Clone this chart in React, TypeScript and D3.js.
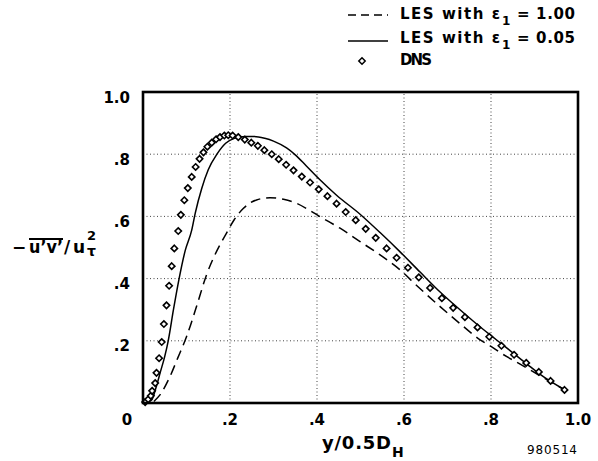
import React from "react";
import * as d3 from "d3";

// ---- data ----
const dnsX = [0.005, 0.012, 0.018, 0.021, 0.028, 0.031, 0.037, 0.043, 0.048, 0.054, 0.060, 0.066, 0.072, 0.081, 0.087, 0.095, 0.103, 0.112, 0.121, 0.130, 0.139, 0.148, 0.158, 0.168, 0.177, 0.187, 0.196, 0.206, 0.219, 0.234, 0.249, 0.264, 0.279, 0.296, 0.312, 0.329, 0.346, 0.365, 0.384, 0.404, 0.424, 0.445, 0.466, 0.489, 0.512, 0.535, 0.560, 0.583, 0.609, 0.634, 0.660, 0.687, 0.713, 0.740, 0.769, 0.796, 0.824, 0.853, 0.881, 0.910, 0.937, 0.969];
const dnsY = [0.003, 0.012, 0.023, 0.039, 0.064, 0.097, 0.144, 0.196, 0.254, 0.314, 0.377, 0.440, 0.497, 0.553, 0.605, 0.652, 0.691, 0.727, 0.759, 0.785, 0.806, 0.824, 0.837, 0.848, 0.855, 0.860, 0.861, 0.860, 0.855, 0.847, 0.837, 0.827, 0.813, 0.800, 0.784, 0.766, 0.748, 0.728, 0.709, 0.687, 0.665, 0.641, 0.614, 0.588, 0.560, 0.531, 0.497, 0.467, 0.435, 0.404, 0.370, 0.337, 0.306, 0.276, 0.243, 0.213, 0.184, 0.155, 0.129, 0.100, 0.071, 0.042];

const les005X = [0.005, 0.02, 0.03, 0.04, 0.05, 0.058, 0.07, 0.083, 0.097, 0.112, 0.12, 0.135, 0.15, 0.17, 0.19, 0.21, 0.235, 0.255, 0.28, 0.30, 0.33, 0.35, 0.375, 0.405, 0.445, 0.499, 0.545, 0.591, 0.637, 0.683, 0.713, 0.767, 0.798, 0.828, 0.882, 0.913, 0.966];
const les005Y = [0.0, 0.01, 0.05, 0.10, 0.15, 0.20, 0.30, 0.40, 0.49, 0.556, 0.61, 0.69, 0.75, 0.80, 0.835, 0.851, 0.857, 0.857, 0.851, 0.842, 0.820, 0.798, 0.763, 0.720, 0.668, 0.607, 0.548, 0.486, 0.421, 0.357, 0.319, 0.254, 0.219, 0.186, 0.126, 0.092, 0.045];

const les100X = [0.025, 0.039, 0.062, 0.080, 0.100, 0.123, 0.146, 0.170, 0.192, 0.210, 0.231, 0.261, 0.292, 0.323, 0.353, 0.380, 0.407, 0.453, 0.499, 0.545, 0.591, 0.629, 0.683, 0.729, 0.775, 0.800, 0.820, 0.867, 0.910, 0.966];
const les100Y = [0.005, 0.026, 0.085, 0.145, 0.213, 0.310, 0.412, 0.490, 0.546, 0.590, 0.626, 0.653, 0.660, 0.655, 0.642, 0.622, 0.599, 0.562, 0.519, 0.476, 0.428, 0.378, 0.310, 0.255, 0.203, 0.182, 0.163, 0.125, 0.090, 0.045];

const gridTicks = [0.2, 0.4, 0.6, 0.8];
const yTickLabels = [".2", ".4", ".6", ".8", "1.0"];
const yTickValues = [0.2, 0.4, 0.6, 0.8, 1.0];
const xTickLabels = ["0", ".2", ".4", ".6", ".8", "1.0"];
const xTickValues = [0, 0.2, 0.4, 0.6, 0.8, 1.0];
const legendLabels = ["LES with \u03b5", "LES with \u03b5", "DNS"];
const legendValues = ["= 1.00", "= 0.05"];

const FONT = "'DejaVu Sans', 'Liberation Sans', Arial, sans-serif";

export default function App() {
  const x = d3.scaleLinear().domain([0, 1]).range([143, 578]);
  const y = d3.scaleLinear().domain([0, 1]).range([403, 92]);

  const line = d3
    .line<[number, number]>()
    .x((d) => x(d[0]))
    .y((d) => y(d[1]))
    .curve(d3.curveMonotoneX);

  const solidPts = les005X.map((v, i) => [v, les005Y[i]] as [number, number]);
  const dashPts = les100X.map((v, i) => [v, les100Y[i]] as [number, number]);
  const diamond = d3.symbol().type(d3.symbolDiamond2).size(26)() as string;

  return (
    <svg
      width={598}
      height={461}
      style={{ position: "absolute", left: 0, top: 0, background: "#fff" }}
      fontFamily={FONT}
      fontWeight="bold"
    >
      <rect x={0} y={0} width={598} height={461} fill="#fff" />
      {/* grid */}
      {gridTicks.map((t) => (
        <line key={"gx" + t} x1={x(t)} x2={x(t)} y1={y(0)} y2={y(1)} stroke="#444" strokeWidth={1} strokeDasharray="1,2.5" />
      ))}
      {gridTicks.map((t) => (
        <line key={"gy" + t} x1={x(0)} x2={x(1)} y1={y(t)} y2={y(t)} stroke="#444" strokeWidth={1} strokeDasharray="1,2.5" />
      ))}

      {/* curves */}
      <path d={line(dashPts) || ""} fill="none" stroke="#000" strokeWidth={1.5} strokeDasharray="10,6" />
      <path d={line(solidPts) || ""} fill="none" stroke="#000" strokeWidth={1.5} />
      {dnsX.map((v, i) => (
        <path key={"d" + i} d={diamond} transform={`translate(${x(v)},${y(dnsY[i])})`} fill="#fff" stroke="#000" strokeWidth={1.6} />
      ))}

      {/* frame */}
      <rect x={x(0)} y={y(1)} width={x(1) - x(0)} height={y(0) - y(1)} fill="none" stroke="#000" strokeWidth={2.6} />

      {/* y tick labels */}
      {yTickValues.map((t, i) => (
        <text key={"yl" + t} x={130} y={y(t) + 10.5} textAnchor="end" fontSize={15}>
          {yTickLabels[i]}
        </text>
      ))}
      {/* x tick labels */}
      {xTickValues.map((t, i) => (
        <text key={"xl" + t} x={t === 0 ? 127 : x(t)} y={425} textAnchor="middle" fontSize={15}>
          {xTickLabels[i]}
        </text>
      ))}

      {/* x axis title */}
      <text x={322} y={449} fontSize={18} textLength={69} lengthAdjust="spacing">y/0.5D</text>
      <text x={392} y={457} fontSize={14}>H</text>

      {/* y axis title */}
      <text x={12} y={253} fontSize={17}>{"\u2212"}</text>
      <text x={29} y={253} fontSize={17} textLength={34} lengthAdjust="spacingAndGlyphs">{"u\u2019v\u2019"}</text>
      <line x1={29} x2={63} y1={239} y2={239} stroke="#000" strokeWidth={2} />
      <text x={64} y={253} fontSize={17} textLength={21} lengthAdjust="spacing">/u</text>
      <text x={87} y={240} fontSize={13}>2</text>
      <text x={87} y={256} fontSize={14}>{"\u03c4"}</text>

      {/* code */}
      <text x={527} y={454} fontSize={12} fontWeight="normal" textLength={50} lengthAdjust="spacing">980514</text>

      {/* legend */}
      <line x1={348} x2={388} y1={15} y2={15} stroke="#000" strokeWidth={1.4} strokeDasharray="8,5" />
      <line x1={348} x2={388} y1={41} y2={41} stroke="#000" strokeWidth={1.4} />
      <path d={diamond} transform="translate(362,61)" fill="#fff" stroke="#000" strokeWidth={1.5} />
      {[0, 1].map((i) => (
        <g key={"lg" + i}>
          <text x={400} y={19 + i * 24} fontSize={15} textLength={100} lengthAdjust="spacing">{legendLabels[i]}</text>
          <text x={502} y={25 + i * 24} fontSize={12}>1</text>
          <text x={517} y={19 + i * 24} fontSize={15} textLength={58} lengthAdjust="spacing">{legendValues[i]}</text>
        </g>
      ))}
      <text x={400} y={65} fontSize={15} textLength={32} lengthAdjust="spacing">{legendLabels[2]}</text>
    </svg>
  );
}
